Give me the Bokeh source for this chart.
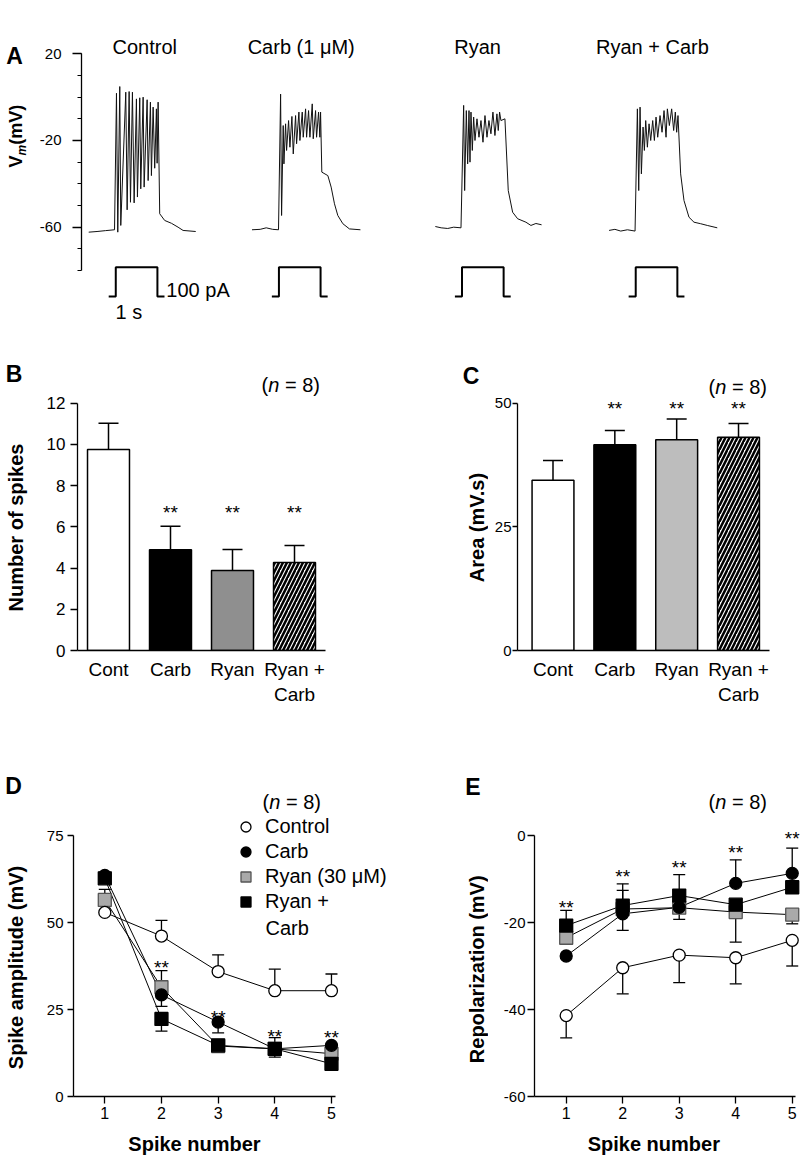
import numpy as np
from bokeh.plotting import figure
from bokeh.models import (Range1d, FixedTicker, Label, Whisker, TeeHead,
                          ColumnDataSource, Legend, LegendItem)
from bokeh.layouts import column, row
from bokeh.embed import file_html
from bokeh.resources import INLINE
from bokeh.core.properties import value

FONT = "Liberation Sans"

# ---------------- Panel A : Vm traces (t in s from step onset, Vm in mV) -------------
sweep_names = ["Control", "Carb (1 μM)", "Ryan", "Ryan + Carb"]
ctrl_t = [-0.65, -0.45, -0.25, -0.03, 0.017, 0.048, 0.096, 0.12, 0.24, 0.273, 0.321, 0.353,
          0.40, 0.441, 0.496, 0.52, 0.576, 0.60, 0.657, 0.681, 0.753, 0.777, 0.832, 0.856,
          0.897, 0.935, 0.976, 0.993, 1.017, 1.055, 1.175, 1.336, 1.496, 1.616, 1.92]
ctrl_v = [-62.3, -62.0, -61.6, -61.2, 1.8, -62.3, 4.9, -59.2, 2.3, -52.0, 2.6, -48.5,
          2.3, -48.8, -0.8, -46.1, -0.3, -42.3, 0.0, -41.5, -1.2, -38.5, -2.3, -36.2,
          -4.6, -32.8, -5.4, -30.5, -2.3, -53.8, -56.9, -58.2, -60.0, -61.5, -62.0]
carb_t = [-0.647, -0.45, -0.305, -0.15, -0.01, 0.04, 0.064, 0.103, 0.12, 0.16,
          0.184, 0.232, 0.264, 0.312, 0.344, 0.40, 0.424, 0.48, 0.504, 0.56,
          0.584, 0.64, 0.664, 0.712, 0.744, 0.80, 0.824, 0.88, 0.904, 0.952,
          0.984, 1.0, 1.03, 1.175, 1.254, 1.334, 1.414, 1.535, 1.693, 1.957]
carb_v = [-61.2, -61.0, -60.3, -61.0, -61.2, 1.4, -54.6, -13.1, -30.8, -12.3,
          -24.6, -10.8, -23.1, -8.9, -26.2, -8.5, -21.5, -6.9, -20.0, -6.9,
          -18.5, -5.4, -18.5, -6.2, -18.5, -3.1, -19.2, -6.2, -18.5, -6.9,
          -18.5, -6.9, -34.6, -36.2, -41.5, -49.2, -54.6, -58.4, -60.8, -61.2]
ryan_t = [-0.64, -0.5, -0.343, -0.2, -0.024, 0.04, 0.064, 0.104, 0.136, 0.168, 0.192,
          0.216, 0.248, 0.28, 0.312, 0.36, 0.408, 0.456, 0.504, 0.552, 0.60, 0.647,
          0.695, 0.743, 0.791, 0.839, 0.871, 0.903, 0.935, 1.031, 1.111, 1.216, 1.336,
          1.535, 1.655, 1.775, 1.911]
ryan_v = [-59.7, -60.3, -60.6, -60.0, -60.3, -3.8, -43.1, -6.2, -30.8, -6.2, -30.0,
          -6.9, -24.6, -9.2, -20.0, -10.0, -18.5, -10.8, -20.8, -8.5, -18.5, -10.8,
          -16.9, -6.9, -17.7, -7.7, -15.4, -6.9, -10.8, -10.0, -43.1, -53.1, -56.1,
          -57.7, -59.2, -58.3, -58.9]
rc_t = [-0.64, -0.5, -0.36, -0.2, -0.016, 0.04, 0.072, 0.104, 0.136, 0.176, 0.208,
        0.24, 0.28, 0.32, 0.36, 0.408, 0.448, 0.488, 0.528, 0.584, 0.632, 0.68,
        0.728, 0.76, 0.808, 0.863, 0.911, 0.951, 0.983, 1.015, 1.079, 1.159, 1.279,
        1.399, 1.559, 1.719, 1.958]
rc_v = [-61.5, -61.0, -61.8, -61.2, -61.8, -5.4, -43.1, -4.6, -35.4, -13.8, -24.6,
        -10.8, -23.1, -12.3, -20.0, -10.8, -20.0, -9.2, -18.5, -8.5, -16.2, -6.2,
        -18.5, -5.4, -13.1, -5.4, -15.4, -6.9, -16.2, -8.5, -35.4, -47.7, -55.4,
        -57.7, -58.4, -59.2, -60.3]
step_t = [-0.17, 0.0, 0.0, 1.0, 1.0, 1.17]
step_pa = [0, 0, 100, 100, 0, 0]
vm_ticks = [-60, -20, 20]
vm_minor = [-80, -70, -60, -50, -40, -30, -20, -10, 0, 10, 20]

# ---------------- Panels B, C : bar charts ------------------------------------------
bar_labels = ["Cont", "Carb", "Ryan", "Ryan +\nCarb"]
spikes_mean = [9.75, 4.89, 3.88, 4.27]
spikes_sem = [1.28, 1.14, 1.02, 0.83]
area_mean = [34.4, 41.6, 42.6, 43.1]
area_sem = [4.0, 2.9, 4.2, 2.8]
b_ticks = [0, 2, 4, 6, 8, 10, 12]
c_ticks = [0, 25, 50]

# ---------------- Panels D, E : per-spike measures ----------------------------------
spike_no = [1, 2, 3, 4, 5]
series_names = ["Control", "Carb", "Ryan (30 μM)", "Ryan +"]
amp_ctrl = [52.9, 46.1, 35.9, 30.4, 30.4]
amp_carb = [63.5, 29.2, 21.4, 13.7, 14.7]
amp_ryan = [56.5, 31.4, 14.5, 13.7, 12.3]
amp_rc = [62.7, 22.3, 14.7, 13.7, 9.4]
amp_ctrl_err = [None, 50.6, 40.7, 36.6, 35.2]
amp_carb_err = [None, 25.9, 18.3, None, None]
amp_ryan_err = [59.5, 36.2, None, 16.9, None]
amp_rc_err = [None, 18.8, None, 11.3, None]
rep_ctrl = [-41.4, -30.4, -27.5, -28.1, -24.1]
rep_carb = [-27.7, -18.0, -16.5, -11.0, -8.7]
rep_ryan = [-23.5, -16.9, -16.6, -17.6, -18.2]
rep_rc = [-20.7, -16.1, -13.8, -15.9, -11.9]
rep_ctrl_err = [-46.5, -36.4, -33.8, -34.1, -30.0]
rep_carb_err = [None, -21.8, None, -5.6, -2.9]
rep_ryan_err = [None, -12.6, -19.3, None, -20.3]
rep_rc_err = [-17.2, -11.1, -9.0, -24.5, None]
d_ticks = [0, 25, 50, 75]
e_ticks = [-60, -40, -20, 0]

# significance marks (x, y positions of "**")
star_b_x, star_b_y = [2, 3, 4], [6.71, 6.71, 6.71]
star_c_x, star_c_y = [2, 3, 4], [49.0, 49.0, 49.0]
star_d_x, star_d_y = [2, 3, 4, 5], [37.2, 22.8, 17.3, 16.9]
star_e_x, star_e_y = [1, 2, 3, 4, 5], [-16.5, -9.4, -7.4, -3.8, -0.6]


def base_fig(w, h, xr, yr, ml, mr, mt, mb, x_axis=True):
    kw = dict(width=w, height=h, x_range=Range1d(*xr), y_range=Range1d(*yr),
              output_backend="svg", toolbar_location=None, tools="",
              min_border_left=ml, min_border_right=mr, min_border_top=mt,
              min_border_bottom=mb)
    if not x_axis:
        kw["x_axis_type"] = None
    p = figure(**kw)
    p.outline_line_color = None
    p.grid.visible = False
    p.background_fill_color = "white"
    p.border_fill_color = "white"
    return p


def strip(x0, x1, h, fy0, fy1):
    """Text-only panel; its frame is aligned with the row's plot frames
    (page rows fy0..fy1), and its data units are page pixels."""
    p = figure(width=x1 - x0, height=h, x_range=Range1d(x0, x1),
               y_range=Range1d(fy1, fy0), x_axis_type=None, y_axis_type=None,
               output_backend="svg", toolbar_location=None, tools="",
               min_border_left=0, min_border_right=0, min_border_top=0,
               min_border_bottom=0)
    p.outline_line_color = None
    p.background_fill_color = "white"
    p.border_fill_color = "white"
    return p


def style_axis(ax, fs, tick_out, standoff, lw=1.3):
    ax.axis_line_color = "black"
    ax.axis_line_width = lw
    ax.major_tick_line_color = "black"
    ax.major_tick_line_width = lw
    ax.major_tick_in = 0
    ax.major_tick_out = tick_out
    ax.minor_tick_line_color = None
    ax.major_label_text_font = FONT
    ax.major_label_text_font_size = f"{fs}px"
    ax.major_label_text_color = "black"
    ax.major_label_standoff = standoff


def text(p, x, y, s, size, style="normal", angle=0.0, align="center",
         baseline="middle", xoff=0):
    p.add_layout(Label(x=x, y=y, text=s, x_offset=xoff, text_font=FONT,
                       text_font_size=f"{size}px", text_font_style=style,
                       angle=angle, text_align=align, text_baseline=baseline,
                       text_color="black"))


def n_label(p, x, y):
    text(p, x, y, "(", 20, align="left")
    text(p, x, y, "n", 20, style="italic", align="left", xoff=6.7)
    text(p, x, y, "= 8)", 20, align="left", xoff=23.4)


def stars(p, xs, ys):
    p.text(x=xs, y=ys, text=["**"] * len(xs), text_font=value(FONT),
           text_font_size="19px", text_align="center", text_baseline="middle",
           text_color="black")


def whiskers(p, xs, vals, ends, size, lw=1.3):
    up = [(x, v, e) for x, v, e in zip(xs, vals, ends) if e is not None and e > v]
    dn = [(x, v, e) for x, v, e in zip(xs, vals, ends) if e is not None and e < v]
    if up:
        src = ColumnDataSource(dict(x=[u[0] for u in up], lo=[u[1] for u in up],
                                    hi=[u[2] for u in up]))
        p.add_layout(Whisker(source=src, base="x", lower="lo", upper="hi",
                             lower_head=None,
                             upper_head=TeeHead(size=size, line_width=lw, line_color="black"),
                             line_color="black", line_width=lw))
    if dn:
        src = ColumnDataSource(dict(x=[u[0] for u in dn], hi=[u[1] for u in dn],
                                    lo=[u[2] for u in dn]))
        p.add_layout(Whisker(source=src, base="x", lower="lo", upper="hi",
                             upper_head=None,
                             lower_head=TeeHead(size=size, line_width=lw, line_color="black"),
                             line_color="black", line_width=lw))


def plain_labels(ticks):
    return {t: str(t) for t in ticks}


# ======================= Panel A =======================
sA = strip(0, 36, 330, 30, 322)
text(sA, 14, 55, "A", 23, style="bold")
text(sA, 15, 167, "V", 18, style="bold", angle=np.pi / 2, align="left")
text(sA, 21, 155, "m", 12, style="bold italic", angle=np.pi / 2, align="left")
text(sA, 15, 144.3, "(mV)", 18, style="bold", angle=np.pi / 2, align="left")

pA = base_fig(769, 330, (0, 17.386), (-103.99, 30.76), 44, 0, 30, 8, x_axis=False)
pA.extra_y_ranges = {"cur": Range1d(-88.74, 907.85)}
ya = pA.yaxis[0]
style_axis(ya, 15, 9, 11)
ya.ticker = FixedTicker(ticks=vm_ticks, minor_ticks=vm_minor)
ya.major_label_overrides = plain_labels(vm_ticks)
ya.minor_tick_line_color = "black"
ya.minor_tick_line_width = 1.0
ya.minor_tick_in = 0
ya.minor_tick_out = 4
ya.bounds = (-80, 20)

sweep_offset_s = [0.823, 4.741, 9.137, 13.309]
title_x = [1.518, 5.276, 9.513, 13.71]
traces = [(ctrl_t, ctrl_v), (carb_t, carb_v), (ryan_t, ryan_v), (rc_t, rc_v)]
for (tt, vv), off, name, tx in zip(traces, sweep_offset_s, sweep_names, title_x):
    pA.line(np.array(tt) + off, vv, line_color="#111111", line_width=1.0)
    pA.line(np.array(step_t) + off, step_pa, y_range_name="cur",
            line_color="black", line_width=2.0)
    text(pA, tx, 23.05, name, 20)
text(pA, 2.038, -89.22, "100 pA", 20, align="left")
text(pA, 1.139, -99.23, "1 s", 20)

# ======================= Panels B, C =======================
bar_x = [1, 2, 3, 4]


def bar_panel(p, means, sems, gray, yt, ybounds, yfs, ytick, ystd):
    src = ColumnDataSource(dict(x=bar_x[:3], top=means[:3],
                                fill=["white", "black", gray]))
    p.vbar(x="x", top="top", width=0.677, source=src, fill_color="fill",
           line_color="black", line_width=1.5)
    p.vbar(x=bar_x[3:], top=means[3:], width=0.677, fill_color="white",
           line_color="black", line_width=1.5, hatch_pattern="/",
           hatch_color="black", hatch_weight=2.5, hatch_scale=8)
    whiskers(p, bar_x, means, [m + s for m, s in zip(means, sems)], 20, lw=1.5)
    yax = p.yaxis[0]
    style_axis(yax, yfs, ytick, ystd)
    yax.ticker = FixedTicker(ticks=yt)
    yax.bounds = ybounds
    xax = p.xaxis[0]
    style_axis(xax, 19, 0, 8)
    xax.ticker = FixedTicker(ticks=bar_x)
    xax.major_label_overrides = {x: l for x, l in zip(bar_x, bar_labels)}


sB = strip(0, 40, 380, 360, 650)
text(sB, 13.5, 373, "B", 23, style="bold")
text(sB, 15, 527, "Number of spikes", 20, style="bold", angle=np.pi / 2)

pB = base_fig(390, 380, (0.5, 4.5), (0, 14.07), 37, 105, 30, 60)
bar_panel(pB, spikes_mean, spikes_sem, "#8f8f8f", b_ticks, (0, 12), 17, 7, 5)
stars(pB, star_b_x, star_b_y)
n_label(pB, 3.468, 12.86)

sC = strip(430, 488, 380, 360, 650)
text(sC, 470.5, 375, "C", 23, style="bold")
text(sC, 476.7, 527, "Area (mV.s)", 20, style="bold", angle=np.pi / 2)

pC = base_fig(317, 380, (0.426, 4.501), (0, 58.63), 29, 36, 30, 60)
bar_panel(pC, area_mean, area_sem, "#bdbdbd", c_ticks, (0, 50), 15, 5, 1)
stars(pC, star_c_x, star_c_y)
n_label(pC, 3.515, 53.24)


# ======================= Panels D, E =======================
def series_panel(p, data, errs, yt, ybounds, xbounds):
    styles = [dict(marker="circle", size=12, fill_color="white", line_color="black"),
              dict(marker="circle", size=12, fill_color="black", line_color="black"),
              dict(marker="square", size=13, fill_color="#a9a9a9", line_color="#555555"),
              dict(marker="square", size=13, fill_color="black", line_color="black")]
    for vals, ee in zip(data, errs):
        whiskers(p, spike_no, vals, ee, 12)
    rends = [None] * 4
    for i in [2, 3, 1, 0]:
        p.line(spike_no, data[i], line_color="black", line_width=1.0)
    for i in [2, 3, 1, 0]:
        rends[i] = p.scatter(spike_no, data[i], line_width=1.3, **styles[i])
    yax = p.yaxis[0]
    yax.ticker = FixedTicker(ticks=yt)
    yax.major_label_overrides = plain_labels(yt)
    yax.bounds = ybounds
    xax = p.xaxis[0]
    xax.ticker = FixedTicker(ticks=spike_no)
    xax.bounds = xbounds
    return rends


sD = strip(0, 40, 418, 740, 1096)
text(sD, 13, 785, "D", 23, style="bold")
text(sD, 15, 967, "Spike amplitude (mV)", 20, style="bold", angle=np.pi / 2)

pD = base_fig(410, 418, (0.4477, 6.924), (0, 102.3), 33, 10, 30, 32)
style_axis(pD.yaxis[0], 15, 6, 4)
style_axis(pD.xaxis[0], 16, 7, 3)
rD = series_panel(pD, [amp_ctrl, amp_carb, amp_ryan, amp_rc],
                  [amp_ctrl_err, amp_carb_err, amp_ryan_err, amp_rc_err],
                  d_ticks, (0, 75), (0.4477, 5.07))
stars(pD, star_d_x, star_d_y)
legend = Legend(items=[LegendItem(label=n, renderers=[r]) for n, r in zip(series_names, rD)],
                location=(160, 182), orientation="vertical",
                label_text_font=FONT, label_text_font_size="20px",
                label_text_color="black",
                glyph_width=25, glyph_height=25, label_height=25, label_width=20,
                spacing=0, padding=0, margin=0, label_standoff=7,
                border_line_color=None, background_fill_alpha=0)
pD.add_layout(legend)
text(pD, 3.836, 48.48, "Carb", 20, align="left")
n_label(pD, 3.783, 84.57)

sE = strip(450, 488, 418, 740, 1096)
text(sE, 472.5, 786.7, "E", 23, style="bold")
text(sE, 476.7, 966, "Repolarization  (mV)", 20, style="bold", angle=np.pi / 2)

pE = base_fig(317, 418, (0.439, 5.235), (-60, 21.84), 46, 0, 30, 32)
style_axis(pE.yaxis[0], 15, 7, 2)
style_axis(pE.xaxis[0], 16, 7, 3)
series_panel(pE, [rep_ctrl, rep_carb, rep_ryan, rep_rc],
             [rep_ctrl_err, rep_carb_err, rep_ryan_err, rep_rc_err],
             e_ticks, (-60, 0), (0.439, 5.06))
stars(pE, star_e_x, star_e_y)
n_label(pE, 3.519, 7.68)

sBottom = strip(0, 805, 30, 1128, 1158)
text(sBottom, 194, 1143, "Spike number", 20, style="bold")
text(sBottom, 653.3, 1143, "Spike number", 20, style="bold")

layout = column(row(sA, pA), row(sB, pB, sC, pC), row(sD, pD, sE, pE), sBottom)
open("out.html", "w").write(file_html(layout, INLINE))
